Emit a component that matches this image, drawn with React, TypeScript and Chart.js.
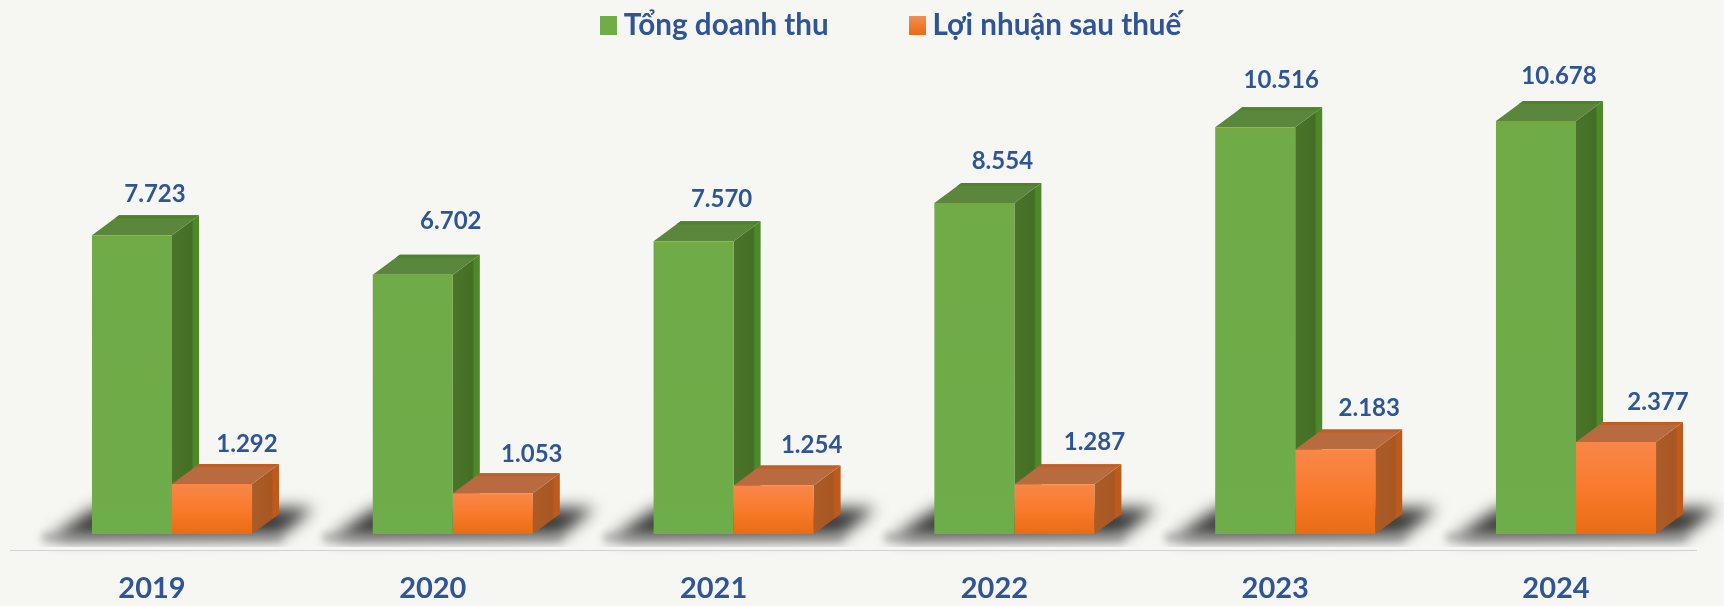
import React, { useEffect, useRef } from "react";
import { Chart, registerables } from "chart.js";

Chart.register(...registerables);

const years = ["2019", "2020", "2021", "2022", "2023", "2024"];
const revenue = [7723, 6702, 7570, 8554, 10516, 10678];
const profit = [1292, 1053, 1254, 1287, 2183, 2377];
const seriesNames = ["Tổng doanh thu", "Lợi nhuận sau thuế"];

// hand placement of the value labels, relative to the top-centre of each bar
const revenueNudgeX = [23, 38, 28, 28, 26, 23];
const revenueNudgeY = [-41, -53, -42, -42, -47, -45];
const profitNudgeX = [35, 39, 38, 40, 34, 42];
const profitNudgeY = [-40, -39, -40, -42, -41, -40];

const BG = "#F6F7F2";
const TEXT = "#2F5597";
const FONT = "Lato, 'Liberation Sans', sans-serif";
const DX = 27;
const DY = 20;

const fmt = (v: number) => String(v).replace(/\B(?=(\d{3})+$)/g, ".");

function swatch(stops: [number, string][]) {
  const c = document.createElement("canvas");
  c.width = 17;
  c.height = 19;
  const x = c.getContext("2d")!;
  const g = x.createLinearGradient(0, 0, 0, 19);
  stops.forEach(([o, s]) => g.addColorStop(o, s));
  x.fillStyle = g;
  x.fillRect(0, 0, 17, 19);
  return c;
}

function poly(ctx: CanvasRenderingContext2D, pts: number[][], fill: string | CanvasGradient) {
  ctx.beginPath();
  pts.forEach(([x, y], i) => (i ? ctx.lineTo(x, y) : ctx.moveTo(x, y)));
  ctx.closePath();
  ctx.fillStyle = fill;
  ctx.fill();
}

function drawDepth(
  ctx: CanvasRenderingContext2D,
  el: any,
  c: { top: string; topEdge: string; side: string; sideDark: string; sideEdge: string }
) {
  const l = el.x - el.width / 2;
  const r = el.x + el.width / 2;
  const t = el.y;
  const b = el.base;
  const g = ctx.createLinearGradient(r, 0, r + DX, 0);
  g.addColorStop(0, c.side);
  g.addColorStop(0.72, c.sideDark);
  g.addColorStop(0.8, c.sideEdge);
  g.addColorStop(1, c.sideEdge);
  poly(ctx, [[r, t], [r + DX, t - DY], [r + DX, b - DY], [r, b]], g);
  poly(ctx, [[l, t], [l + DX, t - DY], [r + DX, t - DY], [r, t]], c.top);
  poly(ctx, [[l + DX - 4, t - DY + 3], [l + DX, t - DY], [r + DX, t - DY], [r + DX - 5, t - DY + 3]], c.topEdge);
}

const bars3d = {
  id: "bars3d",
  beforeLayout(chart: any) {
    const lg = chart.legend;
    if (lg && !lg._wrapped) {
      const fit = lg.fit;
      lg.fit = function () {
        fit.call(this);
        this.height = 60;
      };
      lg._wrapped = true;
    }
  },
  afterLayout(chart: any) {
    const lg = chart.legend;
    const pad = lg.options.labels.padding;
    lg.left = 608 - pad;
    lg.top = 11 - pad;
  },
  beforeDatasetsDraw(chart: any) {
    const ctx: CanvasRenderingContext2D = chart.ctx;
    const a = chart.getDatasetMeta(0).data;
    const o = chart.getDatasetMeta(1).data;
    // axis rule
    ctx.save();
    ctx.strokeStyle = "#CFD2DA";
    ctx.lineWidth = 1;
    const ay = chart.chartArea.bottom + 0.5;
    // floor shadows
    ctx.filter = "blur(8px)";
    a.forEach((el: any, i: number) => {
      const l = el.x - el.width / 2;
      const r = o[i].x + o[i].width / 2;
      const b = el.base;
      poly(ctx, [[l + 2, b - 26], [r + 62, b - 26], [r + 28, b + 2], [l - 42, b + 4]], "rgba(35,35,35,0.9)");
    });
    ctx.filter = "blur(4px)";
    a.forEach((el: any, i: number) => {
      const l = el.x - el.width / 2;
      const r = o[i].x + o[i].width / 2;
      const b = el.base;
      const g = ctx.createLinearGradient(0, b, 0, b + 12);
      g.addColorStop(0, "rgba(90,90,90,0.75)");
      g.addColorStop(1, "rgba(200,200,200,0.25)");
      ctx.fillStyle = g;
      ctx.fillRect(l - 50, b, r - l + 80, 10);
    });
    ctx.filter = "none";
    // axis rule stays visible below the soft shadow
    ctx.fillStyle = BG;
    ctx.fillRect(0, chart.chartArea.bottom - 3, 1724, 3);
    ctx.beginPath();
    ctx.moveTo(10, ay);
    ctx.lineTo(1697, ay);
    ctx.stroke();
    a.forEach((el: any) =>
      drawDepth(ctx, el, { top: "#5A873B", topEdge: "#4C8527", side: "#4A7429", sideDark: "#436F25", sideEdge: "#4D8829" })
    );
    o.forEach((el: any) =>
      drawDepth(ctx, el, { top: "#B96B40", topEdge: "#BF5F26", side: "#AC5C28", sideDark: "#A85722", sideEdge: "#BE5A1C" })
    );
    ctx.restore();
  },
  afterDatasetsDraw(chart: any) {
    const ctx: CanvasRenderingContext2D = chart.ctx;
    ctx.save();
    ctx.font = `bold 24px ${FONT}`;
    ctx.fillStyle = TEXT;
    ctx.textAlign = "center";
    ctx.textBaseline = "middle";
    const draw = (ds: number, vals: number[], nx: number[], ny: number[]) =>
      chart.getDatasetMeta(ds).data.forEach((el: any, i: number) => {
        ctx.fillText(fmt(vals[i]), el.x + nx[i], el.y + ny[i]);
      });
    draw(0, revenue, revenueNudgeX, revenueNudgeY);
    draw(1, profit, profitNudgeX, profitNudgeY);
    ctx.restore();
  },
};

function frontFill(stops: [number, string][]) {
  return (c: any) => {
    const { chart, parsed } = c;
    if (!parsed || !chart.scales?.y) return stops[stops.length - 1][1];
    const top = chart.scales.y.getPixelForValue(parsed.y);
    const bottom = chart.scales.y.getPixelForValue(0);
    const g = chart.ctx.createLinearGradient(0, top, 0, bottom);
    stops.forEach(([o, s]) => g.addColorStop(o, s));
    return g;
  };
}

const greenStops: [number, string][] = [[0, "#75A93F"], [0.02, "#6FAB47"], [1, "#6DAD4A"]];
const orangeStops: [number, string][] = [[0, "#F88749"], [0.5, "#F97A2C"], [1, "#E96C14"]];

export default function App() {
  const ref = useRef<HTMLCanvasElement>(null);
  useEffect(() => {
    const greenSwatch = swatch([[0, "#70AD47"], [1, "#70AD47"]]);
    const orangeSwatch = swatch([[0, "#F28E52"], [1, "#EA6A12"]]);
    const chart = new Chart(ref.current!, {
      type: "bar",
      data: {
        labels: years,
        datasets: [
          { label: seriesNames[0], data: revenue, backgroundColor: frontFill(greenStops), categoryPercentage: 0.57, barPercentage: 1 },
          { label: seriesNames[1], data: profit, backgroundColor: frontFill(orangeStops), categoryPercentage: 0.57, barPercentage: 1 },
        ],
      },
      options: {
        animation: false,
        responsive: false,
        layout: { padding: { left: 31.6, right: 7.6, top: 0, bottom: 0 } },
        plugins: {
          tooltip: { enabled: false },
          legend: {
            display: true,
            position: "top",
            align: "start",
            labels: {
              usePointStyle: true,
              pointStyleWidth: 1,
              padding: 88,
              color: TEXT,
              font: { family: FONT, size: 29.6, weight: "bold" },
              generateLabels: () => [
                { text: seriesNames[0], pointStyle: greenSwatch, fontColor: TEXT, datasetIndex: 0, lineWidth: 0 },
                { text: seriesNames[1], pointStyle: orangeSwatch, fontColor: TEXT, datasetIndex: 1, lineWidth: 0 },
              ],
            },
          },
        },
        scales: {
          x: {
            grid: { display: false },
            border: { display: false },
            afterFit: (s: any) => {
              s.height = 56;
            },
            ticks: {
              color: TEXT,
              font: { family: FONT, size: 29, weight: "bold" },
              labelOffset: -20,
              padding: 13.5,
              maxRotation: 0,
            },
          },
          y: { display: false, min: -414, max: 12254 },
        },
      },
      plugins: [bars3d],
    } as any);
    return () => chart.destroy();
  }, []);
  return (
    <div style={{ position: "absolute", left: 0, top: 0, width: 1724, height: 606, background: BG }}>
      <canvas ref={ref} width={1724} height={606} style={{ display: "block", width: 1724, height: 606 }} />
    </div>
  );
}
